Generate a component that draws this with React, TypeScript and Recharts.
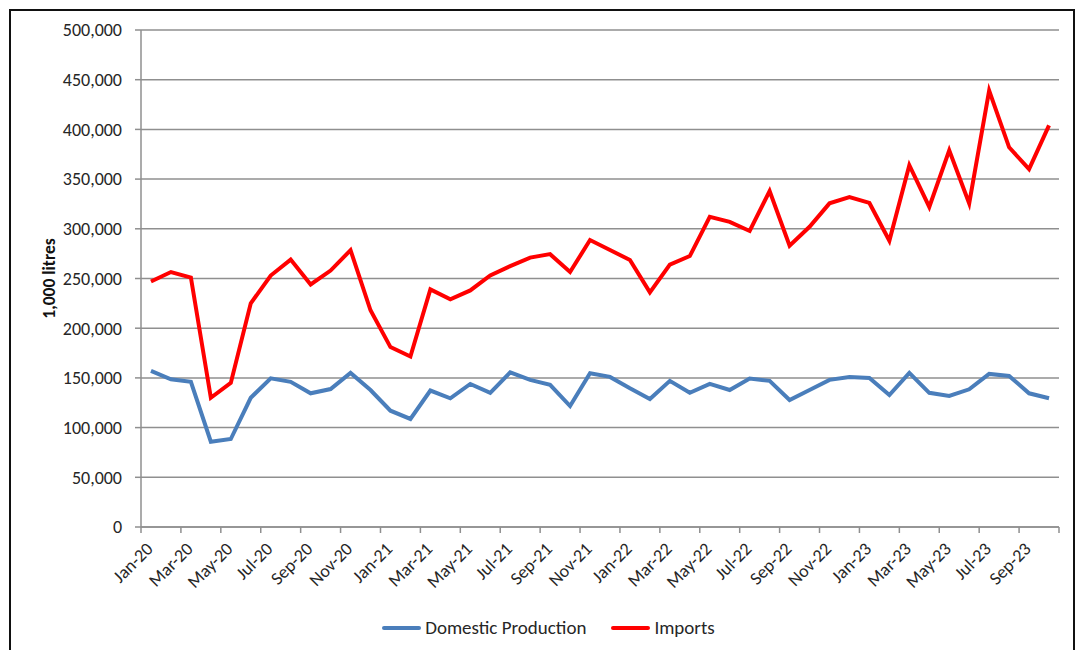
import { LineChart, Line, XAxis, YAxis, CartesianGrid, Legend } from "recharts";

const months = [
  "Jan-20", "Feb-20", "Mar-20", "Apr-20", "May-20", "Jun-20", "Jul-20", "Aug-20", "Sep-20", "Oct-20", "Nov-20", "Dec-20",
  "Jan-21", "Feb-21", "Mar-21", "Apr-21", "May-21", "Jun-21", "Jul-21", "Aug-21", "Sep-21", "Oct-21", "Nov-21", "Dec-21",
  "Jan-22", "Feb-22", "Mar-22", "Apr-22", "May-22", "Jun-22", "Jul-22", "Aug-22", "Sep-22", "Oct-22", "Nov-22", "Dec-22",
  "Jan-23", "Feb-23", "Mar-23", "Apr-23", "May-23", "Jun-23", "Jul-23", "Aug-23", "Sep-23", "Oct-23",
];

const domestic = [
  157000, 148600, 146000, 85800, 88500, 130000, 149600, 146000, 134500, 138800, 155000, 137800,
  117000, 108700, 137300, 129500, 143900, 135000, 155600, 148000, 143000, 121700, 154600, 151000,
  139500, 128800, 147000, 135000, 144000, 137800, 149300, 147000, 127800, 137800, 148000, 151000,
  150000, 132800, 155000, 135000, 131800, 138500, 154000, 152000, 134500, 129500,
];

const imports = [
  247000, 256500, 251000, 130000, 145000, 225000, 253000, 269000, 244000, 258000, 278500, 218000,
  181000, 171500, 239000, 229000, 238000, 253000, 262500, 271000, 274500, 256500, 288700, 278700,
  268600, 236000, 264000, 272600, 312000, 307000, 297800, 338000, 283000, 302000, 325600, 332000,
  326000, 288000, 364000, 322000, 379000, 325600, 439000, 382000, 360000, 404000,
];

const yTicks = [0, 50000, 100000, 150000, 200000, 250000, 300000, 350000, 400000, 450000, 500000];

const data = months.map((m, i) => ({ month: m, domestic: domestic[i], imports: imports[i] }));

const FONT = "Carlito, Lato, 'Open Sans', sans-serif";
const AXIS_GRAY = "#8f8f8f";
const TEXT = "#262626";
const PLOT_W = 918;
const STEP = PLOT_W / months.length;

function MonthTick(props: any) {
  const { x, y, payload } = props;
  const idx = months.indexOf(payload.value);
  const bx = x - STEP / 2;
  return (
    <g>
      <line x1={bx} y1={y} x2={bx} y2={y + 6} stroke={AXIS_GRAY} strokeWidth={1.5} />
      {idx === months.length - 2 && (
        <line x1={x + 1.5 * STEP} y1={y} x2={x + 1.5 * STEP} y2={y + 6} stroke={AXIS_GRAY} strokeWidth={1.5} />
      )}
      <text
        transform={`translate(${x + 3},${y + 23}) rotate(-45)`}
        textAnchor="end"
        fontSize={18}
        fontFamily={FONT}
        fill={TEXT}
      >
        {payload.value}
      </text>
    </g>
  );
}

function LegendBox(props: any) {
  const items = props.payload || [];
  return (
    <div style={{ display: "flex", justifyContent: "center", alignItems: "center", gap: 25, paddingTop: 16, paddingLeft: 38, fontFamily: FONT, fontSize: 19, color: TEXT }}>
      {items.map((it: any) => (
        <div key={it.value} style={{ display: "flex", alignItems: "center" }}>
          <span style={{ display: "inline-block", width: 39, height: 4, background: it.color, marginRight: 4, borderRadius: 2 }} />
          <span>{it.value}</span>
        </div>
      ))}
    </div>
  );
}

export default function App() {
  return (
    <div style={{ position: "fixed", top: 0, left: 0, width: 1078, height: 650, background: "#fff", overflow: "hidden" }}>
      <div style={{ position: "absolute", left: 9, top: 9, width: 1062, height: 660, border: "2px solid #111" }} />
      <div style={{ position: "absolute", left: 0, top: 0 }}>
        <LineChart width={1078} height={650} data={data} margin={{ top: 30, right: 19, bottom: 10, left: 0 }}>
          <CartesianGrid horizontal vertical={false} stroke={AXIS_GRAY} strokeWidth={1.5} />
          <XAxis
            dataKey="month"
            interval={1}
            height={73}
            padding={{ left: STEP / 2, right: STEP / 2 }}
            tickLine={false}
            tickSize={0}
            tickMargin={0}
            axisLine={{ stroke: AXIS_GRAY, strokeWidth: 1.5 }}
            tick={<MonthTick />}
          />
          <YAxis
            width={141}
            domain={[0, 500000]}
            ticks={yTicks}
            interval={0}
            tickFormatter={(v: number) => v.toLocaleString("en-US")}
            tickSize={6}
            tickMargin={13}
            tickLine={{ stroke: AXIS_GRAY, strokeWidth: 1.5 }}
            axisLine={{ stroke: AXIS_GRAY, strokeWidth: 1.5 }}
            tick={{ fontSize: 18, fontFamily: FONT, fill: TEXT }}
            label={{
              value: "1,000 litres",
              angle: -90,
              position: "insideLeft",
              offset: 49,
              style: { textAnchor: "middle", fontSize: 17.5, fontWeight: 700, fontFamily: FONT, fill: "#111" },
            }}
          />
          <Legend verticalAlign="bottom" height={40} content={<LegendBox />} />
          <Line
            name="Domestic Production"
            dataKey="domestic"
            stroke="#4a7ebb"
            strokeWidth={4}
            dot={false}
            type="linear"
            isAnimationActive={false}
          />
          <Line
            name="Imports"
            dataKey="imports"
            stroke="#ff0000"
            strokeWidth={4}
            dot={false}
            type="linear"
            isAnimationActive={false}
          />
        </LineChart>
      </div>
    </div>
  );
}
